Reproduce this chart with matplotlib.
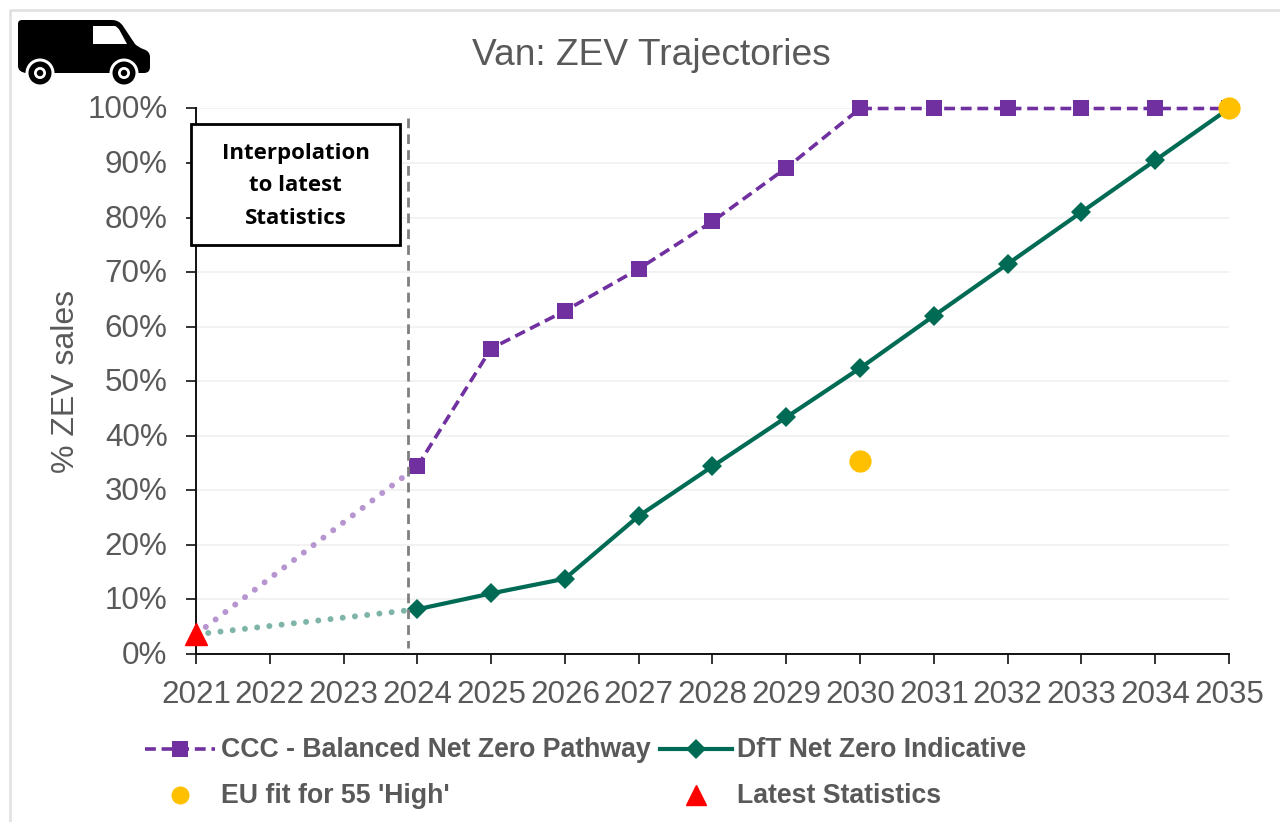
import matplotlib
matplotlib.use('Agg')
import matplotlib.pyplot as plt
from matplotlib.patches import Rectangle, Circle, PathPatch
from matplotlib.path import Path
from matplotlib.lines import Line2D
from matplotlib.transforms import ScaledTranslation

plt.rcParams['font.family'] = ['Liberation Sans', 'DejaVu Sans']

YEARS = list(range(2021, 2036))
CCC_YEARS = list(range(2024, 2036))
CCC_VALUES = [34.4, 56.0, 62.9, 70.6, 79.3, 89.1, 100, 100, 100, 100, 100, 100]
DFT_VALUES = [8.2, 11.1, 13.8, 25.3, 34.4, 43.4, 52.4, 62.0, 71.5, 81.0, 90.5, 100]
EU_YEARS = [2030, 2035]
EU_VALUES = [35.4, 100]
LATEST_YEAR = [2021]
LATEST_VALUE = [3.6]
Y_TICKS = list(range(0, 101, 10))

PURPLE = '#7030A0'
GREEN = '#006B54'
AMBER = '#FFC000'
GREY = '#595959'

W, H = 1280, 822
fig = plt.figure(figsize=(W / 100, H / 100), dpi=100, facecolor='white')
L, R, T, B = 196, 1229, 108.5, 654
ax = fig.add_axes([L / W, 1 - B / H, (R - L) / W, (B - T) / H])
ax.set_xlim(2021, 2035)
ax.set_ylim(0, 100)
ax.patch.set_alpha(0)
ax.set_xticks(YEARS)
ax.set_yticks(Y_TICKS)
ax.set_yticklabels([f'{v}%' for v in Y_TICKS], va='center')
ax.tick_params(axis='both', labelsize=22.6, labelcolor=GREY, length=7.5, width=1.2, color='#111111')
ax.tick_params(axis='x', pad=11)
ax.tick_params(axis='y', pad=13)
shift = ScaledTranslation(0, -2 / 100, fig.dpi_scale_trans)
for lab in ax.get_yticklabels():
    lab.set_transform(lab.get_transform() + shift)
ax.grid(axis='y', color='#F0F0F0', lw=1.2)
ax.set_axisbelow(True)
for s in ('top', 'right'):
    ax.spines[s].set_visible(False)
for s in ('left', 'bottom'):
    ax.spines[s].set_linewidth(1.4)
    ax.spines[s].set_color('#111111')
ax.set_ylabel('% ZEV sales', fontsize=23, color=GREY)
ax.yaxis.set_label_coords((81 - L) / (R - L), 0.5)

# interpolation
ax.plot([LATEST_YEAR[0], CCC_YEARS[0]], [LATEST_VALUE[0], CCC_VALUES[0]], color='#B795D0',
        lw=4.3, ls=(0, (0.01, 2.05)), dash_capstyle='round', zorder=2)
ax.plot([LATEST_YEAR[0], CCC_YEARS[0]], [LATEST_VALUE[0], DFT_VALUES[0]], color='#7FB5A9',
        lw=4.3, ls=(0, (0.01, 2.05)), dash_capstyle='round', zorder=2)
# main series
ax.plot(CCC_YEARS, CCC_VALUES, color=PURPLE, lw=2.6, ls=(0, (3, 1.6)), marker='s', ms=11.3, mew=0,
        clip_on=False, zorder=3)
ax.plot(CCC_YEARS, DFT_VALUES, color=GREEN, lw=3, marker='D', ms=10, mew=0, clip_on=False, zorder=4)
ax.plot(EU_YEARS, EU_VALUES, ls='none', marker='o', ms=16, mew=0, color=AMBER, clip_on=False, zorder=5)
ax.plot(LATEST_YEAR, LATEST_VALUE, ls='none', marker='^', ms=16, color='#FF0000', clip_on=False, zorder=6)

# overlay in pixel coordinates
ov = fig.add_axes([0, 0, 1, 1], zorder=10)
ov.set_xlim(0, W)
ov.set_ylim(H, 0)
ov.axis('off')
ov.patch.set_alpha(0)

# chart frame
ov.add_line(Line2D([9.5, 9.5, 1280], [822, 10.5, 10.5], color='#E2E2E2', lw=2))

ov.text(651, 55.5, 'Van: ZEV Trajectories', fontsize=26.7, color=GREY, ha='center', va='center')

# vertical divider
ov.add_line(Line2D([408, 408], [118, 648], color='#7F7F7F', lw=2, ls=(0, (3.5, 2.2))))

# annotation box
ov.add_patch(Rectangle((191, 124.5), 209, 121, fc='white', ec='black', lw=2, zorder=5))
for y, txt in [(153.5, 'Interpolation'), (185.5, 'to latest'), (218.5, 'Statistics')]:
    ov.text(295.5, y, txt, fontsize=16, fontweight='bold', color='black', ha='center', va='center',
            family=['Open Sans', 'DejaVu Sans'], zorder=6)

# van icon
M, C, Z = Path.MOVETO, Path.CURVE3, Path.CLOSEPOLY
LN = Path.LINETO
van = [(M, (18, 24)), (C, (18, 20)), (C, (22, 20)), (LN, (112, 20)), (C, (119, 20)), (C, (123, 26)),
       (LN, (135, 44)), (C, (138, 47)), (C, (143, 49)), (C, (150, 51)), (C, (150, 57)), (LN, (150, 67)),
       (C, (150, 73)), (C, (144, 73)), (LN, (26, 73)), (C, (18, 72)), (C, (18, 66)), (Z, (18, 24))]
ov.add_patch(PathPatch(Path([p for _, p in van], [c for c, _ in van]), fc='black', ec='none'))
win = [(M, (93, 26)), (LN, (115, 26)), (C, (118, 27)), (C, (120, 31)), (LN, (127, 44)), (LN, (93, 44)), (Z, (93, 26))]
ov.add_patch(PathPatch(Path([p for _, p in win], [c for c, _ in win]), fc='white', ec='none'))
for cx in (40, 124):
    ov.add_patch(Circle((cx, 73), 14.5, fc='white', ec='none'))
    ov.add_patch(Circle((cx, 73), 11.5, fc='black', ec='none'))
    ov.add_patch(Circle((cx, 73), 6, fc='white', ec='none'))
    ov.add_patch(Circle((cx, 73), 3.2, fc='black', ec='none'))

# legend
LEG = dict(fontsize=19.2, fontweight='bold', color=GREY, va='center', ha='left')
ov.add_line(Line2D([145, 215], [749, 749], color=PURPLE, lw=2.6, ls=(0, (3, 1.6))))
ov.add_line(Line2D([180], [749], color=PURPLE, marker='s', ms=11.3, mew=0, ls='none'))
ov.text(221, 750, 'CCC - Balanced Net Zero Pathway', **LEG)
ov.add_line(Line2D([660, 732], [749, 749], color=GREEN, lw=3))
ov.add_line(Line2D([696], [749], color=GREEN, marker='D', ms=10, mew=0, ls='none'))
ov.text(737, 750, 'DfT Net Zero Indicative', **LEG)
ov.add_line(Line2D([180], [795], color=AMBER, marker='o', ms=13, mew=0, ls='none'))
ov.text(221, 796, "EU fit for 55 'High'", **LEG)
ov.add_line(Line2D([696], [795], color='#FF0000', marker='^', ms=14, ls='none'))
ov.text(737, 796, 'Latest Statistics', **LEG)

fig.savefig('out.png', dpi=100)
